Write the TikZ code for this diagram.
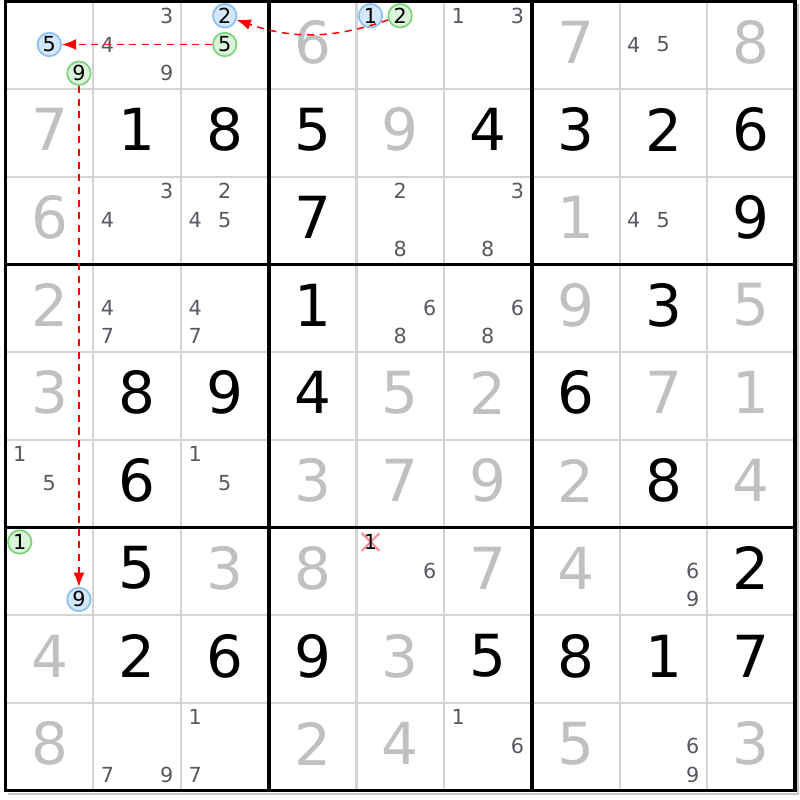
\documentclass[tikz,border=0pt]{standalone}
\usepackage{fontspec}
\setmainfont{DejaVu Sans}
\usetikzlibrary{positioning,arrows.meta,backgrounds}
\definecolor{givengrey}{RGB}{192,192,192}
\definecolor{candgrey}{RGB}{88,88,96}
\definecolor{gridgrey}{RGB}{212,212,212}
\definecolor{blueedge}{RGB}{140,192,240}
\definecolor{bluefill}{RGB}{212,232,252}
\definecolor{greenedge}{RGB}{125,212,125}
\definecolor{greenfill}{RGB}{218,245,218}
\definecolor{linkred}{RGB}{255,0,0}
\definecolor{xpink}{RGB}{255,140,150}

\begin{document}
\begin{tikzpicture}[
            x=0.877cm, y=0.877cm,
            every node/.style={ inner sep=0pt },
            blackdigit/.style={ font=\fontsize{16.5}{18}\selectfont, text=black },
            greydigit/.style={ font=\fontsize{16.5}{18}\selectfont, text=givengrey },
            cand/.style={ circle, minimum size=0.235cm, font=\fontsize{5.9}{7}\selectfont, text=candgrey },
            plaincand/.style={},
            struck/.style={ text=black },
            bluemark/.style={ draw=blueedge, fill=bluefill, line width=0.5pt, text=black },
            greenmark/.style={ draw=greenedge, fill=greenfill, line width=0.5pt, text=black },
            link/.style={ draw=linkred, line width=0.42pt, dash pattern=on 2pt off 1.6pt, -{Latex[length=4pt,width=3.1pt]} },
            cellline/.style={ gridgrey, line width=0.6pt },
            boxline/.style={ black, line width=1pt },
            shadowline/.style={ black!22, line width=0.55pt }
        ]
        \useasboundingbox (-0.065,0.0148) rectangle (9.057,-9.107);

        \draw[shadowline] (9.034,-0.03) -- (9.034,-9.034) -- (0.03,-9.034);
        \foreach \i in {1,2,4,5,7,8}
            \draw[cellline] (\i,0) -- (\i,-9) (0,-\i) -- (9,-\i);
        \foreach \i in {3,6}
            \draw[boxline] (\i,0) -- (\i,-9) (0,-\i) -- (9,-\i);
        \draw[boxline] (0,0) rectangle (9,-9);

        \foreach \r/\c/\d in {2/2/1,2/3/8,2/4/5,2/6/4,2/7/3,2/8/2,2/9/6,3/4/7,3/9/9,4/4/1,4/8/3,
                              5/2/8,5/3/9,5/4/4,5/7/6,6/2/6,6/8/8,7/2/5,7/9/2,
                              8/2/2,8/3/6,8/4/9,8/6/5,8/7/8,8/8/1,8/9/7}
            \node[blackdigit] (d\r\c) at (\c-0.5,0.536-\r) {\d};

        \foreach \r/\c/\d in {1/4/6,1/7/7,1/9/8,2/1/7,2/5/9,3/1/6,3/7/1,4/1/2,4/7/9,4/9/5,
                              5/1/3,5/5/5,5/6/2,5/8/7,5/9/1,6/4/3,6/5/7,6/6/9,6/7/2,6/9/4,
                              7/3/3,7/4/8,7/6/7,7/7/4,8/1/4,8/5/3,9/1/8,9/4/2,9/5/4,9/7/5,9/9/3}
            \node[greydigit] (d\r\c) at (\c-0.5,0.536-\r) {\d};

        \foreach \r/\c/\n/\s in {1/1/5/bluemark,1/1/9/greenmark,1/2/3/plaincand,1/2/4/plaincand,1/2/9/plaincand,
                                 1/3/2/bluemark,1/3/5/greenmark,1/5/1/bluemark,1/5/2/greenmark,
                                 1/6/1/plaincand,1/6/3/plaincand,1/8/4/plaincand,1/8/5/plaincand,
                                 3/2/3/plaincand,3/2/4/plaincand,3/3/2/plaincand,3/3/4/plaincand,3/3/5/plaincand,
                                 3/5/2/plaincand,3/5/8/plaincand,3/6/3/plaincand,3/6/8/plaincand,
                                 3/8/4/plaincand,3/8/5/plaincand,4/2/4/plaincand,4/2/7/plaincand,
                                 4/3/4/plaincand,4/3/7/plaincand,4/5/6/plaincand,4/5/8/plaincand,
                                 4/6/6/plaincand,4/6/8/plaincand,6/1/1/plaincand,6/1/5/plaincand,
                                 6/3/1/plaincand,6/3/5/plaincand,7/1/1/greenmark,7/1/9/bluemark,
                                 7/5/1/struck,7/5/6/plaincand,7/8/6/plaincand,7/8/9/plaincand,
                                 9/2/7/plaincand,9/2/9/plaincand,9/3/1/plaincand,9/3/7/plaincand,
                                 9/6/1/plaincand,9/6/6/plaincand,9/8/6/plaincand,9/8/9/plaincand}
        {
            \pgfmathsetmacro\cx{\c-1+0.16+0.3375*mod(\n-1,3)}
            \pgfmathsetmacro\cy{1-\r-0.165-0.3275*div(\n-1,3)}
            \node[cand,\s] (p\r\c\n) at (\cx,\cy) {\n};
        }

        \begin{scope}[on background layer]
            \draw[xpink, line width=0.6pt] (p751.north west) -- (p751.south east) (p751.north east) -- (p751.south west);
        \end{scope}

        \draw[link] (p152) to[bend left=19] (p132);
        \draw[link] (p135) -- (p115);
        \draw[link] (p119) -- (p719);
    \end{tikzpicture}
\end{document}
